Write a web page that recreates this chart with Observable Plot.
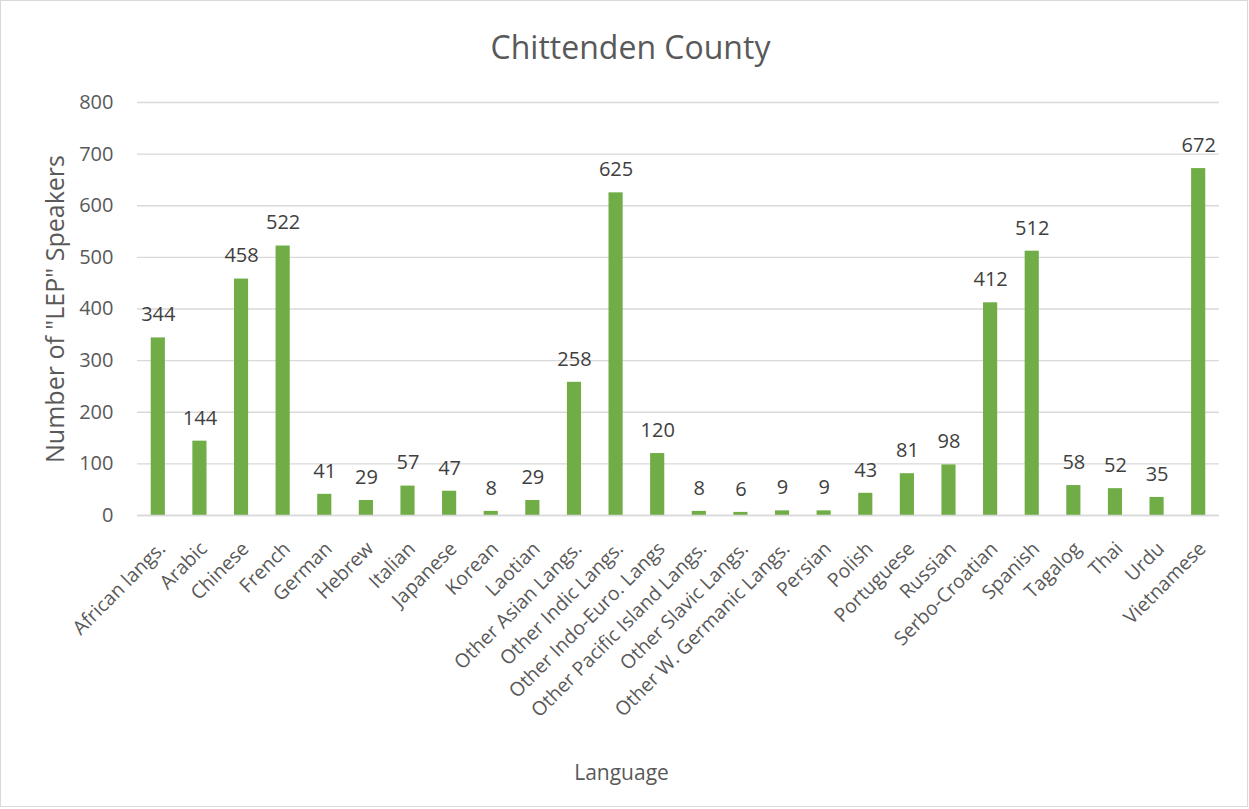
<!DOCTYPE html>
<html>
<head>
<meta charset="utf-8">
<script src="https://cdn.jsdelivr.net/npm/d3@7"></script>
<script src="https://cdn.jsdelivr.net/npm/@observablehq/plot@0.6"></script>
<style>
  body { margin: 0; background: #fff; }
  #frame { position: absolute; left: 0; top: 0; width: 1246px; height: 805px; border: 1px solid #d9d9d9; }
  #chart { position: absolute; left: 0; top: 0; }
</style>
</head>
<body>
<div id="frame"></div>
<div id="chart"></div>
<script>
const languages = ["African langs.", "Arabic", "Chinese", "French", "German", "Hebrew", "Italian", "Japanese", "Korean", "Laotian", "Other Asian Langs.", "Other Indic Langs.", "Other Indo-Euro. Langs", "Other Pacific Island Langs.", "Other Slavic Langs.", "Other W. Germanic Langs.", "Persian", "Polish", "Portuguese", "Russian", "Serbo-Croatian", "Spanish", "Tagalog", "Thai", "Urdu", "Vietnamese"];
const speakers = [344, 144, 458, 522, 41, 29, 57, 47, 8, 29, 258, 625, 120, 8, 6, 9, 9, 43, 81, 98, 412, 512, 58, 52, 35, 672];
const yTicks = [0, 100, 200, 300, 400, 500, 600, 700, 800];
const title = "Chittenden County";
const yTitle = "Number of \"LEP\" Speakers";
const xTitle = "Language";

const data = languages.map((l, i) => ({language: l, value: speakers[i]}));
const font = "'Open Sans', 'Noto Sans', sans-serif";

const chart = Plot.plot({
  width: 1249,
  height: 809,
  marginLeft: 137,
  marginRight: 30,
  marginTop: 102,
  marginBottom: 294,
  style: {fontFamily: font, fontSize: "18px", color: "#595959", background: "transparent"},
  x: {domain: languages, paddingInner: 0.66, paddingOuter: 0.33, round: false, label: null, axis: null},
  y: {domain: [0, 800], label: null, axis: null},
  marks: [
    Plot.gridY(yTicks, {stroke: "#d9d9d9", strokeOpacity: 1, strokeWidth: 1.3}),
    Plot.barY(data, {x: "language", y: "value", fill: "#70ad47"}),
    Plot.ruleY([0], {stroke: "#d9d9d9", strokeWidth: 1.5}),
    Plot.text(data, {x: "language", y: "value", text: d => String(d.value), dy: -23, fill: "#404040", fontSize: 20}),
    Plot.text(yTicks, {y: d => d, text: d => String(d), frameAnchor: "left", textAnchor: "end", dx: -24, fontSize: 20, fill: "#595959"}),
    Plot.text(languages, {x: d => d, text: d => d, frameAnchor: "bottom", textAnchor: "end", lineAnchor: "middle", rotate: -45, dx: 4, dy: 30, fontSize: 19.5, fill: "#595959"}),
    Plot.text([title], {frameAnchor: "top", lineAnchor: "middle", dy: -54, dx: -48, fontSize: 32, fill: "#595959"}),
    Plot.text([yTitle], {frameAnchor: "left", lineAnchor: "middle", textAnchor: "middle", dx: -82, rotate: -90, fontSize: 25, fill: "#595959"}),
    Plot.text([xTitle], {frameAnchor: "bottom", lineAnchor: "middle", dy: 258, dx: -57, fontSize: 21, fill: "#595959"})
  ]
});
document.getElementById("chart").appendChild(chart);
</script>
</body>
</html>
